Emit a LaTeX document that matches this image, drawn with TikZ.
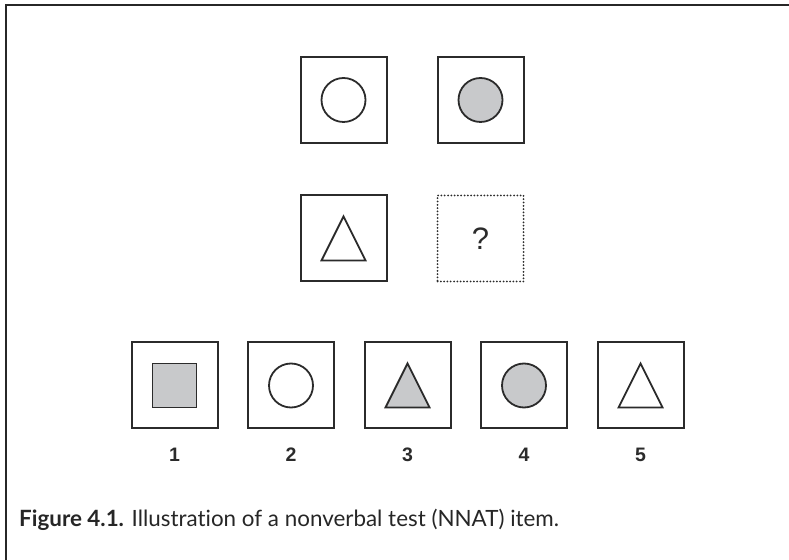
\documentclass[tikz,border=0pt]{standalone}
\usepackage{fontspec}
\setmainfont{Lato}[Ligatures=NoCommon]
\newfontfamily\digitfont{Liberation Sans}
\usetikzlibrary{positioning}
\definecolor{ink}{HTML}{2B2B2B}
\definecolor{shade}{HTML}{C8C9CB}
\tikzset{
        frame/.style={draw=ink!90!black, line width=2pt},
        cell/.style={draw=ink, line width=2pt, minimum size=86pt, inner sep=0pt},
        blank/.style={draw=ink, line width=2pt, line cap=round, dash pattern=on 0pt off 3.3pt, minimum size=86pt, inner sep=0pt},
        ring/.style={circle, draw=ink, line width=1.8pt, minimum size=44pt, inner sep=0pt},
        disc/.style={ring, fill=shade},
        block/.style={draw=ink, line width=1.8pt, fill=shade, minimum size=44pt, inner sep=0pt},
        tri/.style={draw=ink, line width=1.8pt, line join=miter},
        num/.style={inner sep=0pt, text=ink, font=\digitfont\bfseries\fontsize{19.5}{19.5}\selectfont},
        quest/.style={inner sep=0pt, text=ink, font=\digitfont\fontsize{31}{31}\selectfont},
        caption/.style={inner sep=0pt, text=black!85, font=\fontsize{22.4}{26}\selectfont}
          }
\begin{document}
\begin{tikzpicture}[x=1pt, y=1pt]
        \useasboundingbox (0,0) rectangle (789,559);
        \draw[frame] (6,-2) -- (6,554) -- (791,554);
        % item matrix
        \node[cell] (c11) at (343.5,459) {};
        \node[cell, right=49pt of c11] (c12) {};
        \node[cell, below=50.5pt of c11] (c21) {};
        \node[blank, right=49pt of c21] (q) {};
        \node[ring] (s11) at (c11) {};
        \node[disc] (s12) at (c12) {};
        \draw[tri] (c21.center) ++(0,22) -- ++(22,-44) -- ++(-44,0) -- cycle;
        \node[quest] (mark) at (q) {?};
        % answer options
        \node[cell] (a1) at (174.5,173.5) {};
        \node[cell, right=28.5pt of a1] (a2) {};
        \node[cell, right=28.5pt of a2] (a3) {};
        \node[cell, right=28.5pt of a3] (a4) {};
        \node[cell, right=28.5pt of a4] (a5) {};
        \node[block] (s1) at (a1) {};
        \node[ring] (s2) at (a2) {};
        \draw[tri, fill=shade] (a3.center) ++(0,22) -- ++(22,-44) -- ++(-44,0) -- cycle;
        \node[disc] (s4) at (a4) {};
        \draw[tri] (a5.center) ++(0,22) -- ++(22,-44) -- ++(-44,0) -- cycle;
        \node[num, below=18pt of a1] (n1) {1};
        \node[num, below=18pt of a2] (n2) {2};
        \node[num, below=18pt of a3] (n3) {3};
        \node[num, below=18pt of a4] (n4) {4};
        \node[num, below=18pt of a5] (n5) {5};
        \node[caption, anchor=base west] (cap) at (19,32.3)
          {\textbf{Figure 4.1.} Illustration of a nonverbal test (NNAT) item.};
\end{tikzpicture}
\end{document}
